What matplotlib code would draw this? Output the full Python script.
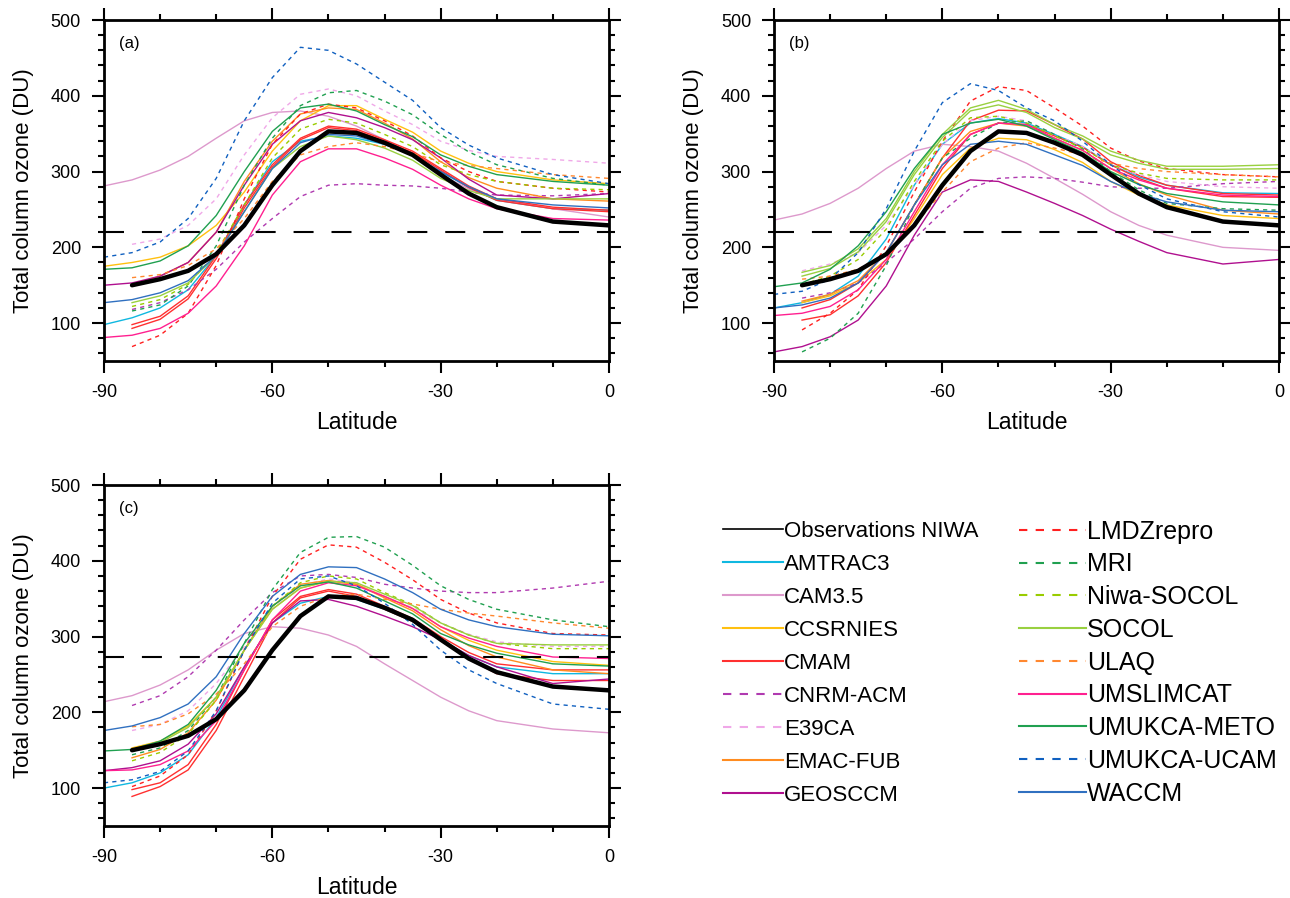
"""
Total column ozone vs latitude for the CCMVal models, three panels + legend
"""

import numpy as np
import matplotlib
matplotlib.use("Agg")
import matplotlib.pyplot as plt
from matplotlib.lines import Line2D

plt.rcParams['font.family'] = ['Liberation Sans', 'DejaVu Sans']
plt.rcParams['axes.unicode_minus'] = False

nan = np.nan

# latitude grid (deg) used by every series
LAT = [-90, -85, -80, -75, -70, -65, -60, -55, -50, -45, -40, -35, -30, -25, -20, -10, 0]

# observations (same in all panels)
OBS = [nan, 150, 158, 169, 191, 229, 282, 327, 353, 351, 338, 322, 296, 271, 253, 234, 229]

# threshold lines
REF_A = 220
REF_B = 220
REF_C = 273

# ---- panel (a)
AMTRAC3_A = [98, 107, 120, 144, 189, 256, 313, 340, 347, 344, 336, 322, 300, 279, 262, 251, 249]
CAM35_A = [281, 289, 302, 320, 344, 367, 378, 380, 373, 360, 342, 322, 296, 277, 264, 251, 240]
CCSRNIES_A = [175, 180, 187, 202, 229, 273, 327, 367, 387, 387, 369, 352, 327, 311, 300, 289, 284]
CMAM_A = [nan, 98, 109, 136, 189, 256, 309, 344, 360, 356, 342, 327, 304, 281, 264, 253, 249]
CMAM2_A = [nan, 93, 105, 132, 185, 252, 306, 342, 358, 354, 340, 325, 302, 279, 262, 251, 247]
CNRM_A = [nan, 118, 127, 144, 171, 207, 238, 267, 282, 284, 282, 281, 278, 273, 269, 268, 271]
E39CA_A = [nan, 204, 211, 229, 264, 322, 371, 402, 409, 400, 380, 362, 340, 328, 320, 316, 311]
EMAC_A = [nan, 151, 162, 180, 220, 287, 340, 376, 384, 382, 364, 343, 313, 292, 278, 264, 261]
GEOSCCM_A = [150, 153, 162, 180, 220, 282, 336, 367, 378, 371, 358, 342, 318, 290, 269, 264, 271]
LMDZ_A = [nan, 69, 84, 113, 176, 264, 336, 376, 389, 384, 367, 347, 318, 300, 287, 278, 273]
MRI_A = [nan, 116, 124, 149, 202, 282, 344, 387, 404, 407, 393, 375, 349, 326, 309, 291, 282]
NIWASOCOL_A = [nan, 122, 131, 151, 193, 256, 318, 356, 369, 364, 349, 333, 309, 296, 287, 278, 276]
SOCOL_A = [nan, 127, 136, 153, 189, 247, 304, 333, 347, 342, 331, 315, 291, 275, 264, 264, 264]
ULAQ_A = [nan, 160, 164, 176, 198, 238, 287, 322, 333, 338, 333, 324, 313, 308, 304, 296, 291]
UMSLIMCAT_A = [81, 84, 93, 113, 149, 202, 269, 313, 330, 330, 318, 303, 282, 264, 251, 238, 236]
METO_A = [171, 173, 182, 202, 242, 300, 353, 384, 389, 380, 362, 346, 322, 307, 296, 287, 282]
UCAM_A = [187, 193, 207, 238, 291, 367, 424, 464, 460, 442, 418, 394, 358, 335, 318, 296, 284]
WACCM_A = [127, 131, 140, 156, 189, 247, 304, 338, 349, 347, 336, 322, 300, 280, 264, 256, 252]

# ---- panel (b)
AMTRAC3_B = [120, 127, 138, 162, 211, 282, 336, 364, 370, 364, 349, 333, 309, 293, 282, 272, 271]
CAM35_B = [236, 244, 258, 278, 304, 327, 336, 333, 327, 311, 291, 270, 247, 229, 216, 200, 196]
CCSRNIES_B = [nan, 127, 136, 153, 184, 238, 296, 331, 344, 342, 329, 312, 287, 269, 256, 242, 238]
CMAM_B = [nan, 120, 131, 153, 193, 256, 318, 367, 381, 380, 362, 343, 313, 295, 282, 271, 269]
CMAM2_B = [nan, 104, 111, 136, 180, 242, 304, 349, 364, 362, 347, 332, 309, 291, 278, 267, 266]
CNRM_B = [nan, 133, 140, 153, 180, 211, 247, 278, 291, 293, 291, 286, 280, 278, 278, 284, 287]
E39CA_B = [nan, 169, 178, 193, 229, 282, 336, 367, 373, 367, 349, 333, 309, 296, 287, 280, 278]
EMAC_B = [nan, 129, 138, 156, 193, 256, 318, 353, 364, 360, 344, 328, 304, 284, 269, 249, 244]
GEOSCCM_B = [62, 69, 82, 104, 149, 216, 273, 289, 287, 273, 258, 242, 224, 208, 193, 178, 184]
LMDZ_B = [nan, 91, 113, 144, 202, 273, 340, 393, 412, 407, 384, 360, 331, 314, 304, 296, 293]
MRI_B = [nan, 62, 80, 113, 176, 256, 318, 344, 364, 367, 349, 330, 300, 276, 258, 251, 249]
NIWASOCOL_B = [nan, 151, 162, 184, 224, 287, 340, 371, 373, 364, 347, 331, 309, 298, 291, 289, 289]
SOCOL_B = [nan, 167, 176, 198, 238, 300, 349, 384, 394, 382, 362, 347, 327, 315, 307, 307, 309]
SOCOL2_B = [nan, 162, 172, 194, 234, 296, 345, 380, 388, 378, 358, 343, 322, 311, 303, 303, 304]
ULAQ_B = [nan, 158, 162, 171, 193, 229, 273, 313, 331, 338, 331, 322, 311, 304, 300, 296, 293]
UMSLIMCAT_B = [110, 113, 122, 144, 184, 247, 309, 349, 364, 362, 344, 328, 304, 289, 278, 269, 267]
METO_B = [148, 153, 171, 202, 247, 304, 349, 364, 369, 360, 342, 325, 300, 283, 271, 260, 256]
UCAM_B = [138, 142, 158, 193, 251, 327, 391, 416, 407, 384, 367, 340, 309, 283, 264, 247, 240]
WACCM_B = [120, 124, 133, 153, 193, 256, 309, 336, 340, 336, 322, 308, 287, 271, 260, 249, 247]

# ---- panel (c)
AMTRAC3_C = [100, 107, 120, 144, 193, 260, 318, 344, 353, 349, 336, 320, 296, 275, 260, 251, 251]
CAM35_C = [214, 222, 236, 256, 282, 304, 313, 311, 302, 287, 264, 242, 220, 202, 189, 178, 173]
CCSRNIES_C = [nan, 153, 162, 182, 220, 282, 336, 364, 373, 369, 353, 337, 313, 295, 282, 267, 262]
CMAM_C = [nan, 98, 107, 131, 184, 256, 322, 353, 362, 356, 340, 324, 300, 279, 264, 256, 256]
CMAM2_C = [nan, 89, 102, 124, 176, 247, 318, 351, 360, 353, 336, 320, 296, 270, 251, 242, 242]
CNRM_C = [nan, 209, 222, 247, 282, 322, 358, 380, 382, 378, 369, 364, 360, 358, 358, 364, 373]
E39CA_C = [nan, 176, 184, 202, 238, 287, 336, 367, 376, 371, 353, 338, 318, 303, 293, 287, 287]
EMAC_C = [nan, 140, 151, 173, 216, 282, 340, 369, 374, 369, 351, 334, 309, 288, 273, 256, 251]
GEOSCCM_C = [123, 127, 136, 158, 198, 260, 318, 347, 349, 340, 327, 313, 296, 275, 260, 238, 244]
LMDZ_C = [nan, 102, 116, 144, 202, 282, 353, 402, 421, 418, 398, 375, 349, 331, 318, 304, 302]
MRI_C = [nan, 144, 153, 176, 220, 291, 362, 411, 431, 432, 418, 394, 367, 349, 336, 322, 313]
NIWASOCOL_C = [nan, 136, 147, 171, 216, 282, 340, 371, 380, 376, 358, 342, 318, 302, 291, 284, 284]
SOCOL_C = [nan, 151, 160, 180, 220, 282, 336, 364, 373, 371, 356, 341, 318, 302, 291, 289, 289]
ULAQ_C = [nan, 181, 184, 198, 224, 264, 313, 340, 353, 356, 349, 343, 336, 331, 327, 318, 311]
UMSLIMCAT_C = [123, 124, 131, 149, 189, 256, 322, 360, 371, 367, 353, 337, 313, 298, 287, 273, 271]
METO_C = [149, 151, 162, 184, 229, 291, 340, 367, 372, 364, 347, 330, 304, 289, 278, 264, 261]
UCAM_C = [107, 111, 122, 149, 202, 282, 344, 376, 380, 367, 344, 316, 282, 256, 238, 211, 204]
WACCM_C = [176, 182, 193, 211, 247, 304, 353, 382, 392, 391, 376, 358, 336, 322, 313, 303, 301]

# model name, colour, dashed?
MODELS = [
    ("AMTRAC3", "#10b8e0", False),
    ("CAM3.5", "#dd99cc", False),
    ("CCSRNIES", "#ffc010", False),
    ("CMAM", "#ff3030", False),
    ("CNRM-ACM", "#b03ab0", True),
    ("E39CA", "#f0a8e8", True),
    ("EMAC-FUB", "#ff8c20", False),
    ("GEOSCCM", "#b0108f", False),
    ("LMDZrepro", "#ff2020", True),
    ("MRI", "#20a050", True),
    ("Niwa-SOCOL", "#99cc00", True),
    ("SOCOL", "#99d040", False),
    ("ULAQ", "#ff8830", True),
    ("UMSLIMCAT", "#ff2090", False),
    ("UMUKCA-METO", "#20a050", False),
    ("UMUKCA-UCAM", "#1060c0", True),
    ("WACCM", "#3070c0", False),
]

# each panel: model -> list of members
PANEL_A = {"AMTRAC3": [AMTRAC3_A], "CAM3.5": [CAM35_A], "CCSRNIES": [CCSRNIES_A],
           "CMAM": [CMAM_A, CMAM2_A], "CNRM-ACM": [CNRM_A], "E39CA": [E39CA_A],
           "EMAC-FUB": [EMAC_A], "GEOSCCM": [GEOSCCM_A], "LMDZrepro": [LMDZ_A],
           "MRI": [MRI_A], "Niwa-SOCOL": [NIWASOCOL_A], "SOCOL": [SOCOL_A],
           "ULAQ": [ULAQ_A], "UMSLIMCAT": [UMSLIMCAT_A], "UMUKCA-METO": [METO_A],
           "UMUKCA-UCAM": [UCAM_A], "WACCM": [WACCM_A]}
PANEL_B = {"AMTRAC3": [AMTRAC3_B], "CAM3.5": [CAM35_B], "CCSRNIES": [CCSRNIES_B],
           "CMAM": [CMAM_B, CMAM2_B], "CNRM-ACM": [CNRM_B], "E39CA": [E39CA_B],
           "EMAC-FUB": [EMAC_B], "GEOSCCM": [GEOSCCM_B], "LMDZrepro": [LMDZ_B],
           "MRI": [MRI_B], "Niwa-SOCOL": [NIWASOCOL_B], "SOCOL": [SOCOL_B, SOCOL2_B],
           "ULAQ": [ULAQ_B], "UMSLIMCAT": [UMSLIMCAT_B], "UMUKCA-METO": [METO_B],
           "UMUKCA-UCAM": [UCAM_B], "WACCM": [WACCM_B]}
PANEL_C = {"AMTRAC3": [AMTRAC3_C], "CAM3.5": [CAM35_C], "CCSRNIES": [CCSRNIES_C],
           "CMAM": [CMAM_C, CMAM2_C], "CNRM-ACM": [CNRM_C], "E39CA": [E39CA_C],
           "EMAC-FUB": [EMAC_C], "GEOSCCM": [GEOSCCM_C], "LMDZrepro": [LMDZ_C],
           "MRI": [MRI_C], "Niwa-SOCOL": [NIWASOCOL_C], "SOCOL": [SOCOL_C],
           "ULAQ": [ULAQ_C], "UMSLIMCAT": [UMSLIMCAT_C], "UMUKCA-METO": [METO_C],
           "UMUKCA-UCAM": [UCAM_C], "WACCM": [WACCM_C]}

DASH = (0, (3, 3))


def draw_panel(ax, panel, letter, ref):
    for name, color, dashed in MODELS:
        for member in panel[name]:
            ax.plot(LAT, member, color=color, lw=1.0, ls=DASH if dashed else '-')
    ax.plot(LAT, OBS, color='black', lw=3.2, solid_capstyle='round',
            solid_joinstyle='round', zorder=5)
    ax.axhline(ref, color='black', lw=1.5, ls=(0, (9.6, 8.6)), zorder=4)

    ax.set_xlim(-90, 0)
    ax.set_ylim(50, 500)
    ax.set_xticks([-90, -60, -30, 0])
    ax.set_xticks(np.arange(-90, 1, 10), minor=True)
    ax.set_yticks([100, 200, 300, 400, 500])
    ax.set_yticks(np.arange(60, 501, 20), minor=True)
    ax.tick_params(which='both', direction='out', top=True, right=True,
                   width=1.5, labelsize=13, pad=8)
    ax.tick_params(which='major', length=8.5)
    ax.tick_params(which='minor', length=4)
    for s in ax.spines.values():
        s.set_linewidth(2)
    ax.set_xlabel("Latitude", fontsize=16.5, labelpad=7)
    ax.set_ylabel("Total column ozone (DU)", fontsize=16, labelpad=12)
    ax.text(0.03, 0.93, "(%s)" % letter, transform=ax.transAxes,
            fontsize=12, va='center', ha='left')


fig = plt.figure(figsize=(12.9, 8.98), dpi=100)
ax_a = fig.add_axes([0.0806, 0.598, 0.3915, 0.3797])
ax_b = fig.add_axes([0.600, 0.598, 0.3915, 0.3797])
ax_c = fig.add_axes([0.0806, 0.0802, 0.3915, 0.3797])

draw_panel(ax_a, PANEL_A, 'a', REF_A)
draw_panel(ax_b, PANEL_B, 'b', REF_B)
draw_panel(ax_c, PANEL_C, 'c', REF_C)

# legend, two columns with different text sizes as in the original
handles = [Line2D([], [], color='black', lw=1.2)]
labels = ["Observations NIWA"]
for name, color, dashed in MODELS:
    handles.append(Line2D([], [], color=color, lw=1.5, ls=(0, (4, 4)) if dashed else '-'))
    labels.append(name)

leg1 = fig.legend(handles[:9], labels[:9], loc='upper left',
                  bbox_to_anchor=(0.5605, 0.4198), frameon=False, fontsize=16,
                  handlelength=2.7, handletextpad=0.05, labelspacing=0.54,
                  borderpad=0, borderaxespad=0)
leg2 = fig.legend(handles[9:], labels[9:], loc='upper left',
                  bbox_to_anchor=(0.790, 0.4213), frameon=False, fontsize=18,
                  handlelength=2.67, handletextpad=0.05, labelspacing=0.35,
                  borderpad=0, borderaxespad=0)

fig.savefig("out.png", dpi=100)
